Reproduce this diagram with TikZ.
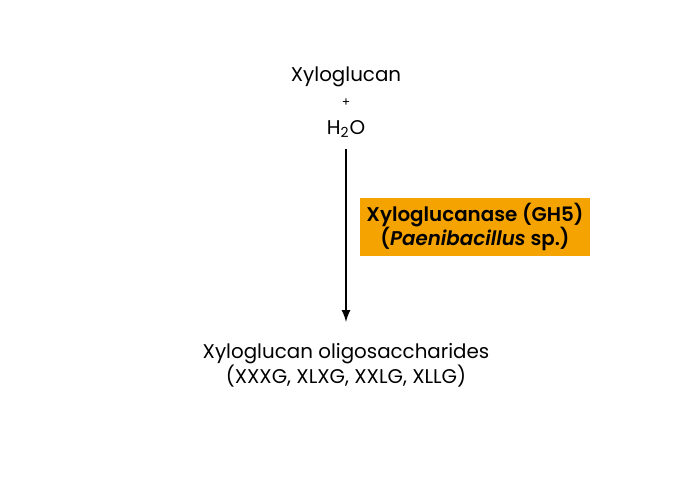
\documentclass[tikz,border=0pt]{standalone}
\usepackage{fontspec}
\setmainfont{Poppins}[BoldFont={Poppins SemiBold}, BoldItalicFont={Poppins SemiBold Italic}]
\usepackage{tikz}
\usetikzlibrary{arrows}
\definecolor{enzorange}{HTML}{F5A300}
\tikzset{lbl/.style={font=\fontsize{11.3}{14}\selectfont, align=center, inner sep=1pt}}

\begin{document}
\begin{tikzpicture}[x=0.02cm, y=-0.02cm]
      \useasboundingbox (0, 0) rectangle (690, 480);
      \node [lbl] (sub) at (346, 77) {Xyloglucan};
      \node [lbl, font=\fontsize{7}{8}\selectfont] (plus) at (346, 103) {+};
      \node [lbl] (water) at (346, 129) {H\textsubscript{2}O};
      \node [lbl] (prod) at (346, 365) {Xyloglucan oligosaccharides\\(XXXG, XLXG, XXLG, XLLG)};
      \node [lbl, fill=enzorange, minimum width=230*0.02cm, minimum height=58*0.02cm, font=\fontsize{11.3}{14}\selectfont\bfseries] (enz) at (475, 227) {Xyloglucanase (GH5)\\(\textit{Paenibacillus} sp.)};

      \draw [->, >=latex, line width=1.3pt, shorten <=5pt, shorten >=11pt] (water) -- (prod);
    \end{tikzpicture}
\end{document}
